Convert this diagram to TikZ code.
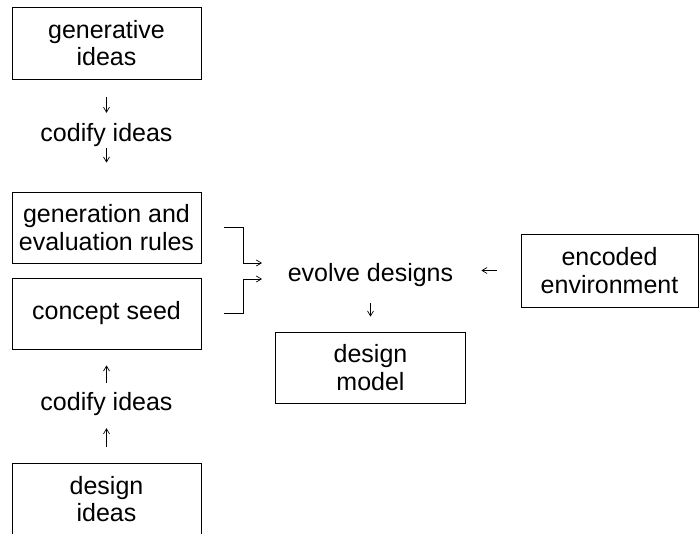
\documentclass[tikz,border=0pt]{standalone}
\usepackage{fontspec}
\setmainfont{Liberation Sans}
\usetikzlibrary{arrows.meta}
\begin{document}
\begin{tikzpicture}[x=1pt,y=-1pt,
  every node/.style={font=\fontsize{25}{27.5}\selectfont},
  box/.style={draw, line width=0.8pt, minimum width=189pt, minimum height=71pt,
              align=center, inner sep=0pt},
  lbl/.style={inner sep=0pt, text height=18pt, text depth=5pt},
  arr/.style={line width=0.7pt, -{Straight Barb[length=5pt,width=6pt]}}]
\clip (0,0) rectangle (700,533);
\fill[white] (0,0) rectangle (700,533);

% left column
\node[box, minimum height=72pt] (gen) at (106.5,43) {generative\\ideas};
\node[lbl] (cod1) at (106.5,134.5) {codify ideas};
\node[box] (rules) at (106.5,227.5) {generation and\\evaluation rules};
\node[box] (seed) at (106.5,313.5) {concept seed};
\node[lbl] (cod2) at (106.5,403.5) {codify ideas};
\node[box, minimum height=72pt] (ideas) at (106.5,499) {design\\ideas};

% centre and right
\node[lbl] (evolve) at (370.5,274.5) {evolve designs};
\node[box, minimum width=190pt] (model) at (370.5,367.5) {design\\model};
\node[box, minimum width=177pt, minimum height=73pt] (enc) at (609.5,270.5) {encoded\\environment};

% arrow ends at the evolve step
\coordinate (inA) at (262,263);
\coordinate (inB) at (262,279);

% connectors
\draw[arr, shorten <=18pt, shorten >=10pt] (gen) -- (cod1);
\draw[arr, shorten <=2pt, shorten >=29pt] (cod1) -- (rules);
\draw[arr, shorten <=16pt, shorten >=13pt] (ideas) -- (cod2);
\draw[arr, shorten <=9pt, shorten >=16pt] (cod2) -- (seed);

\draw[arr] ([xshift=23pt]rules.east) -| ([xshift=-19pt]inA) -- (inA);
\draw[arr] ([xshift=23pt]seed.east) -| ([xshift=-19pt]inB) -- (inB);

\draw[arr, shorten <=24pt, shorten >=28pt] (enc.west) -- (enc.west -| evolve.east);
\draw[arr, shorten <=17pt, shorten >=15pt] (evolve) -- (model);
\end{tikzpicture}
\end{document}
